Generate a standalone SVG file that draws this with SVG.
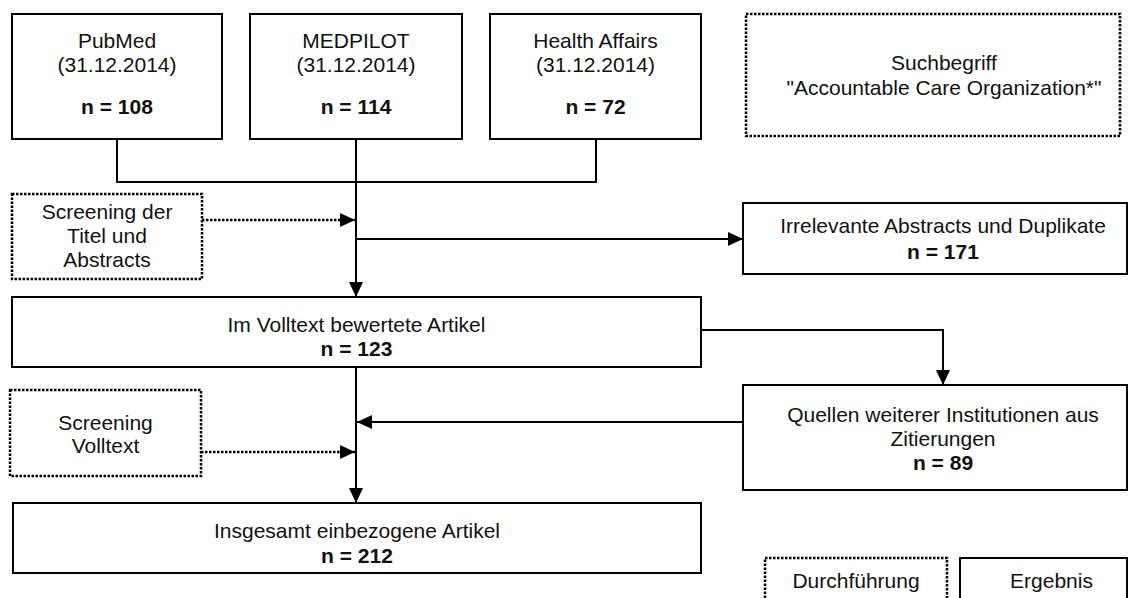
<svg xmlns="http://www.w3.org/2000/svg" width="1132" height="598" viewBox="0 0 1132 598">
<style>
.box{fill:#fff;stroke:#000;stroke-width:2}
.dot{fill:#fff;stroke:#000;stroke-width:2.5;stroke-dasharray:2.5 1.5}
.t{font-family:"Liberation Sans",Arial,sans-serif;font-size:21px;fill:#111;text-anchor:middle}
.b{font-weight:bold}
.ln{fill:none;stroke:#000;stroke-width:2}
.dl{fill:none;stroke:#000;stroke-width:2.5;stroke-dasharray:2.5 1.5}
</style>
<defs>
<marker id="ah" markerUnits="userSpaceOnUse" markerWidth="15" markerHeight="14" refX="15" refY="7" orient="auto">
<path d="M0,0 L15,7 L0,14 z" fill="#000"/>
</marker>
</defs>
<g id="connectors">
<path class="ln" d="M117,139 V182 H596 V139"/>
<path class="ln" d="M356,139 V297" marker-end="url(#ah)"/>
<path class="ln" d="M356,239 H743" marker-end="url(#ah)"/>
<path class="dl" d="M202,220 H355" marker-end="url(#ah)"/>
<path class="ln" d="M701,330 H943 V385" marker-end="url(#ah)"/>
<path class="ln" d="M356,367 V503" marker-end="url(#ah)"/>
<path class="ln" d="M743,422 H357" marker-end="url(#ah)"/>
<path class="dl" d="M201,452 H355" marker-end="url(#ah)"/>
</g>
<g id="pubmed">
<rect class="box" x="12" y="14" width="210" height="125"/>
<text class="t" x="117" y="48">PubMed</text>
<text class="t" x="117" y="72">(31.12.2014)</text>
<text class="t b" x="117" y="114">n = 108</text>
</g>
<g id="medpilot">
<rect class="box" x="250" y="14" width="212" height="125"/>
<text class="t" x="356" y="48">MEDPILOT</text>
<text class="t" x="356" y="72">(31.12.2014)</text>
<text class="t b" x="356" y="114">n = 114</text>
</g>
<g id="healthaffairs">
<rect class="box" x="490" y="14" width="211" height="125"/>
<text class="t" x="595.5" y="48">Health Affairs</text>
<text class="t" x="595.5" y="72">(31.12.2014)</text>
<text class="t b" x="595.5" y="114">n = 72</text>
</g>
<g id="suchbegriff">
<rect class="dot" x="746" y="14" width="374" height="122"/>
<text class="t" x="944" y="70">Suchbegriff</text>
<text class="t" x="944" y="95">"Accountable Care Organization*"</text>
</g>
<g id="screening1">
<rect class="dot" x="12" y="194" width="190" height="85"/>
<text class="t" x="107" y="219">Screening der</text>
<text class="t" x="107" y="243">Titel und</text>
<text class="t" x="107" y="267">Abstracts</text>
</g>
<g id="irrelevant">
<rect class="box" x="743" y="203" width="384" height="71"/>
<text class="t" x="943" y="233">Irrelevante Abstracts und Duplikate</text>
<text class="t b" x="943" y="259">n = 171</text>
</g>
<g id="volltext">
<rect class="box" x="12" y="297" width="689" height="70"/>
<text class="t" x="356.5" y="332">Im Volltext bewertete Artikel</text>
<text class="t b" x="356.5" y="356">n = 123</text>
</g>
<g id="screening2">
<rect class="dot" x="10" y="390" width="191" height="86"/>
<text class="t" x="105.5" y="430">Screening</text>
<text class="t" x="105.5" y="453">Volltext</text>
</g>
<g id="quellen">
<rect class="box" x="743" y="385" width="384" height="105"/>
<text class="t" x="943" y="422">Quellen weiterer Institutionen aus</text>
<text class="t" x="943" y="446">Zitierungen</text>
<text class="t b" x="943" y="470">n = 89</text>
</g>
<g id="insgesamt">
<rect class="box" x="13" y="503" width="688" height="70"/>
<text class="t" x="357" y="538">Insgesamt einbezogene Artikel</text>
<text class="t b" x="357" y="563">n = 212</text>
</g>
<g id="legend-durchfuehrung">
<rect class="dot" x="765" y="558" width="182" height="60"/>
<text class="t" x="856" y="588">Durchführung</text>
</g>
<g id="legend-ergebnis">
<rect class="box" x="960" y="558" width="167" height="60"/>
<text class="t" x="1051.5" y="588">Ergebnis</text>
</g>
</svg>
